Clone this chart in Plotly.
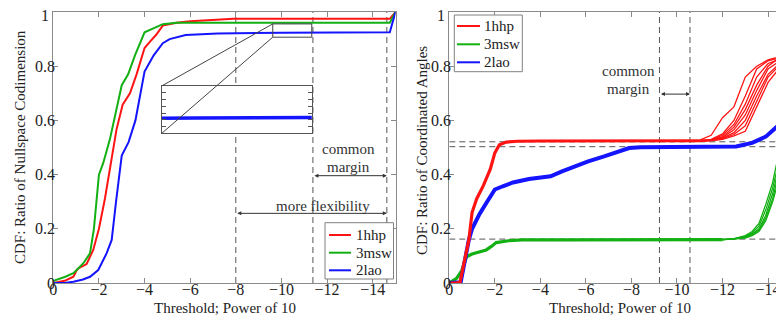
import plotly.graph_objects as go

# window is 784x323; the page body has an 8px default margin
WIN_W, WIN_H = 784, 323
OX, OY = 8, 8
W, H = WIN_W - OX, WIN_H - OY
FONT = "Liberation Serif"
RED, GREEN, BLUE = "#ff1414", "#12b012", "#1414ff"
AXC = "#8a8a8a"
DASHC = "#555555"

SERIES = ["1hhp", "3msw", "2lao"]

# ---------------- left panel: CDF ratio of nullspace codimension ----------------
L_RED_X = [0, -0.5, -0.88, -1.03, -1.12, -1.46, -1.75, -2.0, -2.26, -2.55, -2.77, -3.04, -3.36,
           -3.65, -4.0, -4.23, -4.5, -4.8, -5.4, -6.0, -7.15, -7.9, -12, -14.75, -15]
L_RED_Y = [0.0, 0.008, 0.023, 0.048, 0.055, 0.07, 0.122, 0.2, 0.31, 0.455, 0.566, 0.658, 0.70,
           0.77, 0.867, 0.89, 0.915, 0.95, 0.96, 0.966, 0.972, 0.975, 0.975, 0.975, 1.0]
L_GREEN_X = [0, -0.5, -0.88, -1.32, -1.61, -1.78, -2.0, -2.19, -2.48, -2.77, -3.0, -3.28, -3.58,
             -4.0, -4.38, -4.8, -5.4, -8, -12, -14.75, -15]
L_GREEN_Y = [0.008, 0.022, 0.036, 0.073, 0.11, 0.2, 0.4, 0.443, 0.53, 0.64, 0.73, 0.77, 0.84,
             0.925, 0.94, 0.955, 0.96, 0.96, 0.96, 0.96, 1.0]
L_BLUE_X = [0, -0.5, -0.88, -1.3, -1.61, -1.97, -2.34, -2.56, -2.75, -3.0, -3.3, -3.6, -4.0,
            -4.4, -4.8, -5.1, -5.8, -7.2, -10, -14.75, -15]
L_BLUE_Y = [0, 0.0, 0.005, 0.013, 0.023, 0.048, 0.11, 0.159, 0.30, 0.47, 0.52, 0.6, 0.78,
            0.84, 0.885, 0.90, 0.915, 0.921, 0.923, 0.925, 1.0]

L_VLINES = [-8, -11.38, -14.62]
ZOOM_X = [-9.62, -11.33]      # magnified region (x)
ZOOM_Y = [0.907, 0.956]       # magnified region (y)
INSET_X = [-4.75, -11.33]     # inset placement, in left-panel data units
INSET_Y = [0.552, 0.727]

# ---------------- right panel: CDF ratio of coordinated angles ----------------
R_RED_BASE_X = [0, -0.3, -0.47, -0.7, -0.86, -1.0, -1.2, -1.5, -1.8, -2.0, -2.2, -2.5, -3.0,
                -4, -6, -8, -10, -11]
R_RED_BASE_Y = [0, 0, 0.003, 0.1, 0.16, 0.26, 0.31, 0.36, 0.42, 0.48, 0.51, 0.52, 0.523,
                0.524, 0.524, 0.524, 0.524, 0.525]
R_RED_TAIL_X = [-11.0, -11.5, -12.0, -12.5, -13.0, -13.5, -14.0, -14.7]
R_RED_TAILS = [
    [0.527, 0.545, 0.61, 0.65, 0.76, 0.80, 0.823, 0.84],
    [0.526, 0.53, 0.55, 0.60, 0.69, 0.79, 0.82, 0.835],
    [0.525, 0.528, 0.545, 0.585, 0.66, 0.76, 0.81, 0.83],
    [0.525, 0.527, 0.54, 0.575, 0.64, 0.73, 0.80, 0.845],
    [0.525, 0.527, 0.537, 0.565, 0.62, 0.71, 0.79, 0.83],
    [0.524, 0.526, 0.535, 0.555, 0.60, 0.69, 0.77, 0.825],
    [0.524, 0.526, 0.533, 0.548, 0.58, 0.67, 0.76, 0.82],
    [0.524, 0.525, 0.53, 0.543, 0.56, 0.65, 0.74, 0.815],
]
R_GREEN_BASE_X = [0, -0.32, -0.54, -0.76, -1.0, -1.3, -1.62, -1.85, -2.06, -2.6, -3.2, -5, -8,
                  -10, -12]
R_GREEN_BASE_Y = [0, 0.017, 0.045, 0.097, 0.107, 0.115, 0.122, 0.135, 0.149, 0.156, 0.159,
                  0.159, 0.159, 0.159, 0.160]
R_GREEN_TAIL_X = [-12.0, -12.5, -13.0, -13.3, -13.6, -13.9, -14.2, -14.4, -14.7]
R_GREEN_TAILS = [
    [0.160, 0.164, 0.175, 0.19, 0.22, 0.29, 0.37, 0.45, 0.59],
    [0.160, 0.163, 0.172, 0.185, 0.21, 0.27, 0.35, 0.42, 0.55],
    [0.160, 0.163, 0.17, 0.18, 0.20, 0.25, 0.33, 0.40, 0.52],
    [0.160, 0.162, 0.168, 0.178, 0.195, 0.24, 0.31, 0.38, 0.49],
    [0.160, 0.162, 0.166, 0.175, 0.19, 0.23, 0.30, 0.36, 0.47],
]
R_BLUE_X = [0, -0.3, -0.5, -0.7, -0.86, -1.0, -1.33, -1.66, -2.0, -2.35, -2.8, -3.5, -4.45,
            -4.95, -5.5, -6.1, -6.8, -7.4, -7.9, -8.4, -10.5, -12.6, -13.3, -13.9, -14.7]
R_BLUE_Y = [0, 0, 0.003, 0.09, 0.16, 0.20, 0.255, 0.30, 0.345, 0.357, 0.371, 0.384, 0.394,
            0.412, 0.43, 0.449, 0.467, 0.486, 0.498, 0.501, 0.501, 0.504, 0.517, 0.54, 0.60]

R_VLINES = [-9.23, -10.57]
R_HLINES = [0.521, 0.503, 0.162]

X_TICKS = [0, -2, -4, -6, -8, -10, -12, -14]
Y_TICKS = [0, 0.2, 0.4, 0.6, 0.8, 1]
Y_TICKTEXT = ["0", "0.2", "0.4", "0.6", "0.8", ""]   # top "1" is drawn slightly lower, below
Y_TOP_LABEL = "1"


# ---------------- geometry (window pixels -> paper) ----------------
def pxx(px):
    return (px - OX) / W


def pxy(py):
    return 1 - (py - OY) / H


LX_DOM = [pxx(53.3), pxx(395.5)]
RX_DOM = [pxx(449.3), 1.0]
Y_DOM = [pxy(283), pxy(12)]
L_RANGE = [0, -15]
R_RANGE = [0, -14.7]


def lx_paper(v):
    return LX_DOM[0] + (v - L_RANGE[0]) / (L_RANGE[1] - L_RANGE[0]) * (LX_DOM[1] - LX_DOM[0])


def ly_paper(v):
    return Y_DOM[0] + v * (Y_DOM[1] - Y_DOM[0])


INSET_XDOM = [lx_paper(INSET_X[0]), lx_paper(INSET_X[1])]
INSET_YDOM = [ly_paper(INSET_Y[0]), ly_paper(INSET_Y[1])]

fig = go.Figure()

# left panel traces
for name, xs, ys, c in [(SERIES[0], L_RED_X, L_RED_Y, RED),
                        (SERIES[1], L_GREEN_X, L_GREEN_Y, GREEN),
                        (SERIES[2], L_BLUE_X, L_BLUE_Y, BLUE)]:
    fig.add_trace(go.Scatter(x=xs, y=ys, mode="lines", name=name, xaxis="x", yaxis="y",
                             line=dict(color=c, width=2), showlegend=False))

# inset (magnified view)
fig.add_trace(go.Scatter(x=L_BLUE_X, y=L_BLUE_Y, mode="lines", name=SERIES[2], xaxis="x3",
                         yaxis="y3", line=dict(color=BLUE, width=3.5), showlegend=False))

# right panel traces
fig.add_trace(go.Scatter(x=R_GREEN_BASE_X, y=R_GREEN_BASE_Y, mode="lines", name=SERIES[1],
                         xaxis="x2", yaxis="y2", line=dict(color=GREEN, width=3.2),
                         showlegend=False))
for ys in R_GREEN_TAILS:
    fig.add_trace(go.Scatter(x=R_GREEN_TAIL_X, y=ys, mode="lines", name=SERIES[1], xaxis="x2",
                             yaxis="y2", line=dict(color=GREEN, width=1.3), showlegend=False))
fig.add_trace(go.Scatter(x=R_BLUE_X, y=R_BLUE_Y, mode="lines", name=SERIES[2], xaxis="x2",
                         yaxis="y2", line=dict(color=BLUE, width=4), showlegend=False))
fig.add_trace(go.Scatter(x=R_RED_BASE_X, y=R_RED_BASE_Y, mode="lines", name=SERIES[0],
                         xaxis="x2", yaxis="y2", line=dict(color=RED, width=3.2),
                         showlegend=False))
for ys in R_RED_TAILS:
    fig.add_trace(go.Scatter(x=R_RED_TAIL_X, y=ys, mode="lines", name=SERIES[0], xaxis="x2",
                             yaxis="y2", line=dict(color=RED, width=1.3), showlegend=False))

tickfont = dict(family=FONT, size=16, color="#222222")
axis_common = dict(showgrid=False, zeroline=False, showline=True, linecolor=AXC, linewidth=1,
                   ticks="inside", ticklen=5, tickcolor=AXC, tickfont=tickfont, automargin=False,
                   ticklabeloverflow="allow")

shapes = []
for v in L_VLINES:
    shapes.append(dict(type="line", xref="x", yref="y", x0=v, x1=v, y0=0, y1=1, layer="below",
                       line=dict(color=DASHC, width=1, dash="6px,4px")))
for v in R_VLINES:
    shapes.append(dict(type="line", xref="x2", yref="y2", x0=v, x1=v, y0=0, y1=1, layer="below",
                       line=dict(color=DASHC, width=1, dash="6px,4px")))
for v in R_HLINES:
    shapes.append(dict(type="line", xref="x2", yref="y2", x0=R_RANGE[0], x1=R_RANGE[1], y0=v, y1=v,
                       layer="below", line=dict(color=DASHC, width=1, dash="6px,4px")))
# magnified box and connectors
shapes.append(dict(type="rect", xref="x", yref="y", x0=ZOOM_X[0], x1=ZOOM_X[1], y0=ZOOM_Y[0],
                   y1=ZOOM_Y[1], line=dict(color="#444444", width=1)))
shapes.append(dict(type="line", xref="x", yref="y", x0=ZOOM_X[0], y0=ZOOM_Y[1], x1=INSET_X[0],
                   y1=INSET_Y[1], line=dict(color="#444444", width=1)))
shapes.append(dict(type="line", xref="x", yref="y", x0=ZOOM_X[0], y0=ZOOM_Y[0], x1=INSET_X[0],
                   y1=INSET_Y[0], line=dict(color="#444444", width=1)))

txt = dict(family=FONT, size=15, color="#333333")
ann = []


def arrow(xref, yref, xa, xb, y):
    return dict(xref=xref, yref=yref, axref=xref, ayref=yref, x=xb, y=y, ax=xa, ay=y, text="",
                showarrow=True, arrowhead=2, startarrowhead=2, arrowside="end+start",
                arrowsize=0.8, startarrowsize=0.8, arrowwidth=1, arrowcolor="#333333",
                standoff=0, startstandoff=0)


def label(xref, yref, x, y, text, font, angle=0, xanchor="center"):
    return dict(xref=xref, yref=yref, x=x, y=y, text=text, showarrow=False, font=font,
                xanchor=xanchor, yanchor="middle", textangle=angle)


ann.append(arrow("x", "y", -11.38, -14.62, 0.396))
ann.append(arrow("x", "y", -8, -14.62, 0.257))
ann.append(arrow("x2", "y2", -9.23, -10.57, 0.697))
ann.append(label("x", "y", -12.94, 0.494, "common", txt))
ann.append(label("x", "y", -12.94, 0.429, "margin", txt))
ann.append(label("x", "y", -11.84, 0.285, "more flexibility", txt))
ann.append(label("x2", "y2", -7.86, 0.783, "common", txt))
ann.append(label("x2", "y2", -7.86, 0.715, "margin", txt))

# top y tick label of each panel, nudged down so it is not clipped at the page edge
for xdom in (LX_DOM, RX_DOM):
    ann.append(dict(xref="paper", yref="paper", x=xdom[0], y=Y_DOM[1], text=Y_TOP_LABEL,
                    showarrow=False, font=tickfont, xanchor="right", yanchor="middle",
                    xshift=-2, yshift=-4))

# axis titles
ttl = dict(family=FONT, size=15, color="#222222")
ann.append(label("paper", "paper", pxx(20), pxy(147), "CDF: Ratio of Nullspace Codimension",
                 ttl, -90))
ann.append(label("paper", "paper", pxx(422), pxy(151), "CDF: Ratio of Coordinated Angles",
                 ttl, -90))
ann.append(label("paper", "paper", pxx(225), pxy(308), "Threshold; Power of 10", ttl))
ann.append(label("paper", "paper", pxx(620), pxy(308), "Threshold; Power of 10", ttl))

# legends (boxed, MATLAB style): box corners, sample line span, row centres, text start (pixels)
legfont = dict(family=FONT, size=15, color="#222222")
LEGENDS = [
    dict(box=(325, 222.7, 393.5, 279), line=(329, 351), rows=(235, 252.7, 270.3), text=353.5),
    dict(box=(454.3, 15, 522.3, 71.7), line=(457, 480), rows=(26, 44.3, 62.3), text=481.5),
]
for lg in LEGENDS:
    x0, y0, x1, y1 = lg["box"]
    shapes.append(dict(type="rect", xref="paper", yref="paper", x0=pxx(x0), x1=pxx(x1),
                       y0=pxy(y1), y1=pxy(y0), fillcolor="white",
                       line=dict(color="#808080", width=1), layer="above"))
    for name, c, ry in zip(SERIES, [RED, GREEN, BLUE], lg["rows"]):
        shapes.append(dict(type="line", xref="paper", yref="paper", x0=pxx(lg["line"][0]),
                           x1=pxx(lg["line"][1]), y0=pxy(ry), y1=pxy(ry),
                           line=dict(color=c, width=2), layer="above"))
        ann.append(label("paper", "paper", pxx(lg["text"]), pxy(ry), name, legfont,
                         xanchor="left"))

fig.update_layout(
    template="none",
    width=W, height=H, autosize=False,
    margin=dict(l=0, r=0, t=0, b=0, pad=0),
    paper_bgcolor="white", plot_bgcolor="white",
    showlegend=False,
    xaxis=dict(domain=LX_DOM, range=L_RANGE, anchor="y", tickvals=X_TICKS, mirror="ticks",
               ticklabelstandoff=-8, **axis_common),
    yaxis=dict(domain=Y_DOM, range=[0, 1], anchor="x", tickvals=Y_TICKS, ticktext=Y_TICKTEXT,
               mirror="ticks", ticklabelstandoff=-6, **axis_common),
    xaxis2=dict(domain=RX_DOM, range=R_RANGE, anchor="y2", tickvals=X_TICKS, mirror="ticks",
                ticklabelstandoff=-8, **axis_common),
    yaxis2=dict(domain=Y_DOM, range=[0, 1], anchor="x2", tickvals=Y_TICKS, ticktext=Y_TICKTEXT,
                ticklabelstandoff=-6, **axis_common),
    xaxis3=dict(domain=INSET_XDOM, range=ZOOM_X, anchor="y3", showgrid=False, zeroline=False,
                showline=True, mirror=True, linecolor="#555555", linewidth=1, ticks="",
                showticklabels=False, automargin=False),
    yaxis3=dict(domain=INSET_YDOM, range=ZOOM_Y, anchor="x3", showgrid=False, zeroline=False,
                showline=True, mirror="ticks", linecolor="#555555", linewidth=1, ticks="inside",
                ticklen=4, tickcolor="#555555", dtick=0.007, tick0=ZOOM_Y[0],
                showticklabels=False, automargin=False),
    shapes=shapes,
    annotations=ann,
)

fig.write_html("out.html")
